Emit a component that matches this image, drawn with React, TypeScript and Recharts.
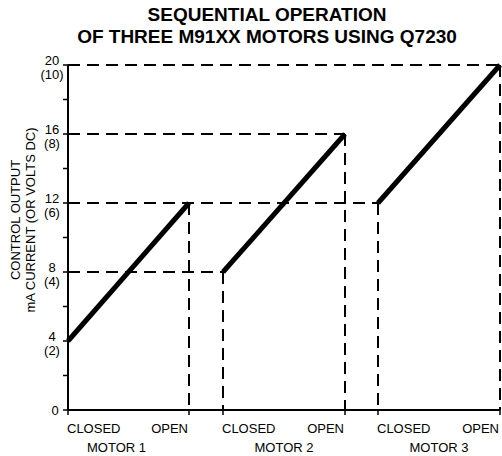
import React from 'react';
import { ComposedChart, Line, XAxis, YAxis, ReferenceLine } from 'recharts';

const motorNames = ['MOTOR 1', 'MOTOR 2', 'MOTOR 3'];
const closedPositions = [0, 155, 310];
const openPositions = [121, 277, 432];
const closedValues = [4, 8, 12];
const openValues = [12, 16, 20];
const yTicks = [0, 2, 4, 6, 8, 10, 12, 14, 16, 18, 20];
const labeledValues = [0, 4, 8, 12, 16, 20];
const currentLabels = ['0', '4', '8', '12', '16', '20'];
const voltLabels = ['', '(2)', '(4)', '(6)', '(8)', '(10)'];
const titleLines = ['SEQUENTIAL OPERATION', 'OF THREE M91XX MOTORS USING Q7230'];
const yTitleLines = ['CONTROL OUTPUT', 'mA CURRENT (OR VOLTS DC)'];

const FONT = "Arial, 'Liberation Sans', sans-serif";

const motorSeries = motorNames.map((name, i) => ({
  name,
  data: [
    { x: closedPositions[i], y: closedValues[i] },
    { x: openPositions[i], y: openValues[i] },
  ],
}));

type Seg = [{ x: number; y: number }, { x: number; y: number }];
const horizontalGuides: Seg[] = [];
const verticalGuides: Seg[] = [];
motorNames.forEach((_, i) => {
  if (i > 0) {
    horizontalGuides.push([{ x: 0, y: closedValues[i] }, { x: closedPositions[i], y: closedValues[i] }]);
    verticalGuides.push([{ x: closedPositions[i], y: closedValues[i] }, { x: closedPositions[i], y: 0 }]);
  }
  horizontalGuides.push([{ x: 0, y: openValues[i] }, { x: openPositions[i], y: openValues[i] }]);
  verticalGuides.push([{ x: openPositions[i], y: openValues[i] }, { x: openPositions[i], y: 0 }]);
});

type TickInfo = { kind: 'closed' | 'open' | 'motor'; index: number };
const xTickInfo = new Map<number, TickInfo>();
const xTicks: number[] = [];
motorNames.forEach((_, i) => {
  const mid = (closedPositions[i] + openPositions[i]) / 2;
  xTicks.push(closedPositions[i], mid, openPositions[i]);
  xTickInfo.set(closedPositions[i], { kind: 'closed', index: i });
  xTickInfo.set(mid, { kind: 'motor', index: i });
  xTickInfo.set(openPositions[i], { kind: 'open', index: i });
});

const XTick = (props: any) => {
  const { x, y, payload } = props;
  const info = xTickInfo.get(payload.value);
  if (!info) return <g />;
  if (info.kind === 'motor') {
    const dx = info.index === 0 ? -12 : 0;
    return (
      <text x={x + dx} y={y + 41.5} textAnchor="middle" fontSize={13} fontFamily={FONT} fill="#000">
        {motorNames[info.index]}
      </text>
    );
  }
  const isClosed = info.kind === 'closed';
  return (
    <g>
      <line x1={x} x2={x} y1={y} y2={y + 5} stroke="#000" strokeWidth={1.5} />
      <text
        x={x - 1}
        y={y + 22.5}
        textAnchor={isClosed ? 'start' : 'end'}
        fontSize={13}
        fontFamily={FONT}
        fill="#000"
      >
        {isClosed ? 'CLOSED' : 'OPEN'}
      </text>
    </g>
  );
};

const YTick = (props: any) => {
  const { y, payload } = props;
  const idx = labeledValues.indexOf(payload.value);
  if (idx < 0) return <g />;
  const cx = 52;
  if (!voltLabels[idx]) {
    return (
      <text x={cx + 3} y={y + 4.7} textAnchor="middle" fontSize={13} fontFamily={FONT} fill="#000">
        {currentLabels[idx]}
      </text>
    );
  }
  return (
    <g>
      <text x={cx} y={y} textAnchor="middle" fontSize={13} fontFamily={FONT} fill="#000">
        {currentLabels[idx]}
      </text>
      <text x={cx} y={y + 13.5} textAnchor="middle" fontSize={13} fontFamily={FONT} fill="#000">
        {voltLabels[idx]}
      </text>
    </g>
  );
};

const YTitle = () => {
  const cy = 220;
  const xs = [15, 30];
  return (
    <g>
      {yTitleLines.map((t, i) => (
        <text
          key={t}
          x={xs[i]}
          y={cy}
          transform={`rotate(-90 ${xs[i]} ${cy})`}
          textAnchor="middle"
          dominantBaseline="central"
          fontSize={13}
          fontFamily={FONT}
          fill="#000"
        >
          {t}
        </text>
      ))}
    </g>
  );
};

const dash = '12 7';

export default function App() {
  return (
    <div style={{ position: 'absolute', left: 0, top: 0, width: 502, height: 456, background: '#fff' }}>
      <div
        style={{
          position: 'absolute',
          left: 16,
          top: 4,
          width: 502,
          textAlign: 'center',
          fontFamily: FONT,
          fontWeight: 'bold',
          fontSize: 19,
          lineHeight: '22px',
          color: '#000',
        }}
      >
        {titleLines.map((t) => (
          <div key={t}>{t}</div>
        ))}
      </div>
      <ComposedChart width={502} height={456} margin={{ top: 65, right: 2, left: 0, bottom: 0 }}>
        <XAxis
          type="number"
          dataKey="x"
          domain={[0, 432]}
          ticks={xTicks}
          interval={0}
          tickLine={false}
          tickSize={0}
          tickMargin={0}
          height={46}
          axisLine={{ stroke: '#000', strokeWidth: 2 }}
          tick={<XTick />}
        />
        <YAxis
          type="number"
          dataKey="y"
          domain={[0, 20]}
          ticks={yTicks}
          interval={0}
          width={68}
          tickSize={5}
          tickLine={{ stroke: '#000', strokeWidth: 1.5 }}
          axisLine={{ stroke: '#000', strokeWidth: 2 }}
          tick={<YTick />}
          label={{ content: () => <YTitle /> }}
        />
        {horizontalGuides.map((seg, i) => (
          <ReferenceLine
            key={`h${i}`}
            segment={seg}
            stroke="#000"
            strokeWidth={2}
            strokeDasharray={dash}
            ifOverflow="visible"
          />
        ))}
        {verticalGuides.map((seg, i) => (
          <ReferenceLine
            key={`v${i}`}
            segment={seg}
            stroke="#000"
            strokeWidth={2}
            strokeDasharray={dash}
            ifOverflow="visible"
          />
        ))}
        {motorSeries.map((s) => (
          <Line
            key={s.name}
            data={s.data}
            dataKey="y"
            type="linear"
            stroke="#000"
            strokeWidth={5}
            dot={false}
            activeDot={false}
            isAnimationActive={false}
          />
        ))}
      </ComposedChart>
    </div>
  );
}
